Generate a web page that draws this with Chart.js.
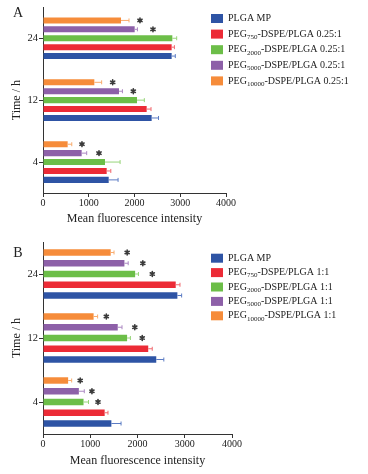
<!DOCTYPE html>
<html>
<head>
<meta charset="utf-8">
<script src="https://cdn.jsdelivr.net/npm/chart.js"></script>
<style>
  body { margin: 0; background: #fff; }
  .panel { position: absolute; left: 0; width: 368px; }
</style>
</head>
<body>
<div class="panel" style="top:0;height:232px"><canvas id="chartA" width="368" height="232"></canvas></div>
<div class="panel" style="top:232px;height:242px"><canvas id="chartB" width="368" height="242"></canvas></div>
<script>
// time points, top to bottom
let categories = ["24", "12", "4"];
let xTicks = [0, 1000, 2000, 3000, 4000];

let colors = ["#2E54A5", "#EC2B36", "#6CBE48", "#8D60A8", "#F68C3A"];
let errColors = ["#5C7CC4", "#F06A70", "#98D57A", "#AC88C2", "#F9AC6E"];

// panel A (0.25:1)
let namesA = ["PLGA MP", "PEG_750-DSPE/PLGA 0.25:1", "PEG_2000-DSPE/PLGA 0.25:1",
              "PEG_5000-DSPE/PLGA 0.25:1", "PEG_10000-DSPE/PLGA 0.25:1"];
let plgaA = [2812, 2375, 1436];
let peg750A = [2812, 2266, 1392];
let peg2000A = [2827, 2055, 1355];
let peg5000A = [2004, 1661, 845];
let peg10000A = [1705, 1122, 539];
let plgaErrA = [80, 150, 205];
let peg750ErrA = [60, 95, 90];
let peg2000ErrA = [95, 160, 330];
let peg5000ErrA = [60, 75, 110];
let peg10000ErrA = [175, 160, 90];
// where the * marks sit (null = none)
let peg5000StarA = [2404, 1974, 1224];
let peg10000StarA = [2120, 1523, 852];

// panel B (1:1)
let namesB = ["PLGA MP", "PEG_750-DSPE/PLGA 1:1", "PEG_2000-DSPE/PLGA 1:1",
              "PEG_5000-DSPE/PLGA 1:1", "PEG_10000-DSPE/PLGA 1:1"];
let plgaB = [2844, 2397, 1447];
let peg750B = [2809, 2227, 1305];
let peg2000B = [1950, 1780, 858];
let peg5000B = [1723, 1582, 759];
let peg10000B = [1433, 1071, 532];
let plgaErrB = [90, 160, 205];
let peg750ErrB = [90, 85, 70];
let peg2000ErrB = [70, 70, 105];
let peg5000ErrB = [80, 90, 115];
let peg10000ErrB = [70, 85, 75];
let peg2000StarB = [2313, 2100, 1164];
let peg5000StarB = [2113, 1943, 1036];
let peg10000StarB = [1781, 1340, 787];

const serif = "'Liberation Serif', 'Times New Roman', serif";
const ink = "#222";

/**
 * Error bars, asterisks, legend and panel letter
 */
const extras = {
    id: "extras",
    afterDatasetsDraw(chart, args, opts) {
        const ctx = chart.ctx;
        const xs = chart.scales.x;
        ctx.save();
        chart.data.datasets.forEach((ds, i) => {
            const meta = chart.getDatasetMeta(i);
            meta.data.forEach((bar, j) => {
                const x1 = xs.getPixelForValue(ds.data[j] + ds.errors[j]);
                ctx.strokeStyle = ds.errorColor;
                ctx.lineWidth = 1;
                ctx.lineCap = "butt";
                ctx.beginPath();
                ctx.moveTo(bar.x, bar.y);
                ctx.lineTo(x1, bar.y);
                ctx.moveTo(x1, bar.y - 2);
                ctx.lineTo(x1, bar.y + 2);
                ctx.stroke();
                if (ds.stars && ds.stars[j] != null) {
                    const sx = xs.getPixelForValue(ds.stars[j]);
                    ctx.strokeStyle = "#3a3a3a";
                    ctx.lineWidth = 1.6;
                    ctx.lineCap = "round";
                    ctx.beginPath();
                    for (let k = 0; k < 3; k++) {
                        const a = Math.PI / 2 + k * Math.PI / 3;
                        ctx.moveTo(sx - 2.4 * Math.cos(a), bar.y - 2.4 * Math.sin(a));
                        ctx.lineTo(sx + 2.4 * Math.cos(a), bar.y + 2.4 * Math.sin(a));
                    }
                    ctx.stroke();
                }
            });
        });

        // legend, PLGA MP first
        ctx.textBaseline = "middle";
        ctx.textAlign = "left";
        opts.names.forEach((name, i) => {
            const y = opts.legendY + i * opts.legendStep;
            ctx.fillStyle = colors[i];
            ctx.fillRect(opts.legendX, y - 4.5, 12, 9);
            ctx.fillStyle = ink;
            let m = name.match(/^(.*?)_(\d+)(.*)$/);
            let x = opts.legendX + 17;
            if (m) {
                ctx.font = "10px " + serif;
                ctx.fillText(m[1], x, y);
                x += ctx.measureText(m[1]).width;
                ctx.font = "7px " + serif;
                ctx.fillText(m[2], x, y + 3);
                x += ctx.measureText(m[2]).width;
                ctx.font = "10px " + serif;
                ctx.fillText(m[3], x, y);
            } else {
                ctx.font = "10px " + serif;
                ctx.fillText(name, x, y);
            }
        });

        ctx.font = "14px " + serif;
        ctx.textAlign = "center";
        ctx.fillStyle = ink;
        ctx.fillText(opts.letter, opts.letterX, opts.letterY);
        ctx.restore();
    }
};

function makeDatasets(series, errs, stars) {
    // reversed so PEG10000 sits at the top of each group
    let sets = [];
    for (let i = series.length - 1; i >= 0; i--) {
        sets.push({
            data: series[i],
            errors: errs[i],
            stars: stars[i],
            errorColor: errColors[i],
            backgroundColor: colors[i],
            borderWidth: 0
        });
    }
    return sets;
}

function makeChart(id, datasets, names, cfg) {
    return new Chart(document.getElementById(id), {
        type: "bar",
        data: { labels: categories, datasets: datasets },
        plugins: [extras],
        options: {
            indexAxis: "y",
            responsive: false,
            animation: false,
            barPercentage: cfg.barPct,
            categoryPercentage: cfg.catPct,
            layout: { padding: { top: cfg.top, right: cfg.right, left: 0, bottom: 0 } },
            plugins: {
                legend: { display: false },
                tooltip: { enabled: false },
                extras: {
                    names: names,
                    legendX: 211, legendY: cfg.legendY, legendStep: cfg.legendStep,
                    letter: cfg.letter, letterX: 18, letterY: cfg.letterY
                }
            },
            scales: {
                x: {
                    min: 0, max: 4000,
                    afterBuildTicks: (s) => { s.ticks = xTicks.map(v => ({ value: v })); },
                    afterFit: (s) => { s.height = cfg.xHeight; },
                    grid: { drawOnChartArea: false, tickLength: 4, color: "#333" },
                    border: { color: "#333" },
                    ticks: {
                        padding: 0, color: ink, font: { family: serif, size: 10 },
                        callback: (v) => String(v)
                    },
                    title: {
                        display: true, text: "Mean fluorescence intensity", color: ink,
                        font: { family: serif, size: 12 }, padding: { top: 0, bottom: 6 }
                    }
                },
                y: {
                    afterFit: (s) => { s.width = 43; },
                    grid: { drawOnChartArea: false, offset: false, tickLength: 4, color: "#333" },
                    border: { color: "#333" },
                    ticks: { padding: 1, color: ink, font: { family: serif, size: 10.5 } },
                    title: {
                        display: true, text: "Time / h", color: ink,
                        font: { family: serif, size: 12 }, padding: { top: 10, bottom: 0 }
                    }
                }
            }
        }
    });
}

makeChart("chartA",
    makeDatasets([plgaA, peg750A, peg2000A, peg5000A, peg10000A],
                 [plgaErrA, peg750ErrA, peg2000ErrA, peg5000ErrA, peg10000ErrA],
                 [null, null, null, peg5000StarA, peg10000StarA]),
    namesA,
    { top: 7, right: 142, xHeight: 39, barPct: 0.68, catPct: 0.72,
      legendY: 18.5, legendStep: 15.6, letter: "A", letterY: 13 });

makeChart("chartB",
    makeDatasets([plgaB, peg750B, peg2000B, peg5000B, peg10000B],
                 [plgaErrB, peg750ErrB, peg2000ErrB, peg5000ErrB, peg10000ErrB],
                 [null, null, peg2000StarB, peg5000StarB, peg10000StarB]),
    namesB,
    { top: 10, right: 136, xHeight: 40, barPct: 0.6, catPct: 0.84,
      legendY: 26.2, legendStep: 14.4, letter: "B", letterY: 21 });
</script>
</body>
</html>
